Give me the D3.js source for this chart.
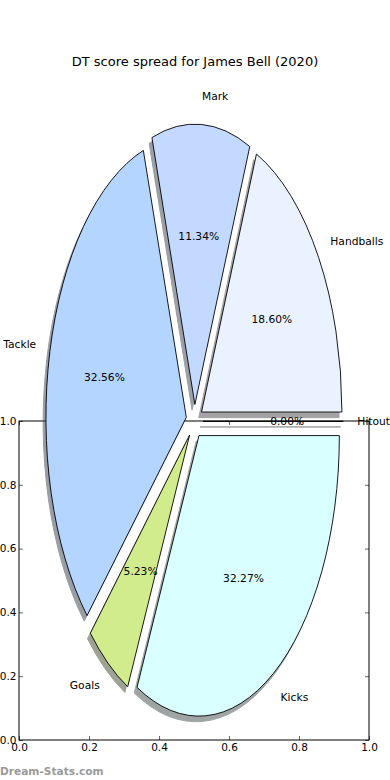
<!DOCTYPE html>
<html>
<head>
<meta charset="utf-8">
<script src="https://cdn.jsdelivr.net/npm/d3@7"></script>
<style>
  body { margin: 0; background: #fff; }
  text { font-family: "DejaVu Sans", sans-serif; fill: #000; }
</style>
</head>
<body>
<div id="chart"></div>
<script>
// DT score breakdown (share of total), pie order counter-clockwise from 3 o'clock
const categories = ["Handballs", "Mark", "Tackle", "Goals", "Kicks", "Hitout"];
const values = [32, 19.5, 56, 9, 55.5, 0];
const colors = ["#ebf2ff", "#c4d9ff", "#b4d5ff", "#d0ec8c", "#d9ffff", "#f0f0f0"];
const axisTicks = [0, 0.2, 0.4, 0.6, 0.8, 1.0];

const W = 390, H = 780;
const explode = 0.06;

const svg = d3.select("#chart").append("svg")
  .attr("width", W).attr("height", H);

// the empty 0..1 axes that sits behind the pie
const ax = d3.scaleLinear().domain([0, 1]).range([19, 369]);
const ay = d3.scaleLinear().domain([0, 1]).range([740, 421]);

const axes = svg.append("g");
axes.append("rect")
  .attr("x", ax(0)).attr("y", ay(1))
  .attr("width", ax(1) - ax(0)).attr("height", ay(0) - ay(1))
  .attr("fill", "none").attr("stroke", "#000").attr("stroke-width", 1);

const fmt = d3.format(".1f");
const mk = (gen, tx, labels, pad) => {
  const g = axes.append("g").attr("transform", tx)
    .call(gen.tickValues(axisTicks).tickSizeInner(-4).tickSizeOuter(0).tickPadding(pad)
      .tickFormat(labels ? fmt : ""));
  g.select(".domain").remove();
  g.selectAll("line").attr("stroke", "#000").attr("stroke-width", 0.6);
  g.selectAll("text").style("font-family", "DejaVu Sans").style("font-size", "10.5px").attr("fill", "#000");
  return g;
};
mk(d3.axisBottom(ax), `translate(0,${ay(0)})`, true, 4);
mk(d3.axisTop(ax), `translate(0,${ay(1)})`, false, 4);
mk(d3.axisLeft(ay), `translate(${ax(0)},0)`, true, 2.5);
mk(d3.axisRight(ay), `translate(${ax(1)},0)`, false, 4);

// pie axes, limits -1.25..1.25 each way, stretched aspect
const px = d3.scaleLinear().domain([-1.25, 1.25]).range([19, 370]);
const py = d3.scaleLinear().domain([-1.25, 1.25]).range([771.8, 70.8]);
const cx = px(0), cy = py(0);
const rx = px(1) - px(0), ry = py(0) - py(1);

// d3 angles: 0 at 12 o'clock clockwise; start at 3 o'clock, run counter-clockwise
const pie = d3.pie().sort(null).startAngle(Math.PI / 2).endAngle(Math.PI / 2 - 2 * Math.PI);
const arcs = pie(values);
const arc = d3.arc().innerRadius(0).outerRadius(1);

const dirOf = d => {
  const m = (d.startAngle + d.endAngle) / 2;
  return [Math.sin(m), -Math.cos(m)];
};
const shade = c => {
  const k = d3.rgb(c);
  return d3.rgb(k.r * 0.3, k.g * 0.3, k.b * 0.3).toString();
};

const pieG = svg.append("g");

// shadows first
pieG.selectAll("path.shadow").data(arcs).join("path")
  .attr("class", "shadow")
  .attr("d", arc)
  .attr("transform", d => {
    const [ux, uy] = dirOf(d);
    return `translate(${cx + explode * rx * ux - 0.02 * rx},${cy + explode * ry * uy + 0.02 * ry}) scale(${rx},${ry})`;
  })
  .attr("fill", (d, i) => shade(colors[i]))
  .attr("stroke", (d, i) => shade(colors[i]))
  .attr("stroke-width", 1)
  .attr("vector-effect", "non-scaling-stroke")
  .attr("opacity", 0.5);

pieG.selectAll("path.wedge").data(arcs).join("path")
  .attr("class", "wedge")
  .attr("d", arc)
  .attr("transform", d => {
    const [ux, uy] = dirOf(d);
    return `translate(${cx + explode * rx * ux},${cy + explode * ry * uy}) scale(${rx},${ry})`;
  })
  .attr("fill", (d, i) => colors[i])
  .attr("stroke", "#000")
  .attr("stroke-width", 0.9)
  .attr("vector-effect", "non-scaling-stroke");

const total = d3.sum(values);

// category labels at 1.1 r
pieG.selectAll("text.lab").data(arcs).join("text")
  .attr("class", "lab")
  .attr("x", d => cx + (explode + 1.1) * rx * dirOf(d)[0])
  .attr("y", d => cy + (explode + 1.1) * ry * dirOf(d)[1])
  .attr("text-anchor", d => dirOf(d)[0] >= 0 ? "start" : "end")
  .attr("dominant-baseline", "central")
  .style("font-size", "10.7px")
  .text((d, i) => categories[i]);

// percentage labels at 0.6 r
pieG.selectAll("text.pct").data(arcs).join("text")
  .attr("class", "pct")
  .attr("x", d => cx + (explode + 0.6) * rx * dirOf(d)[0])
  .attr("y", d => cy + (explode + 0.6) * ry * dirOf(d)[1])
  .attr("text-anchor", "middle")
  .attr("dominant-baseline", "central")
  .style("font-size", "10.7px")
  .text(d => (d.data / total * 100).toFixed(2) + "%");

svg.append("text")
  .attr("x", 195).attr("y", 61)
  .attr("text-anchor", "middle")
  .attr("dominant-baseline", "central")
  .style("font-size", "13px")
  .text("DT score spread for James Bell (2020)");

svg.append("text")
  .attr("x", 0).attr("y", 771)
  .attr("dominant-baseline", "central")
  .style("font-size", "10.6px")
  .style("font-weight", "bold")
  .style("fill", "#9a9a9a")
  .text("Dream-Stats.com");
</script>
</body>
</html>
